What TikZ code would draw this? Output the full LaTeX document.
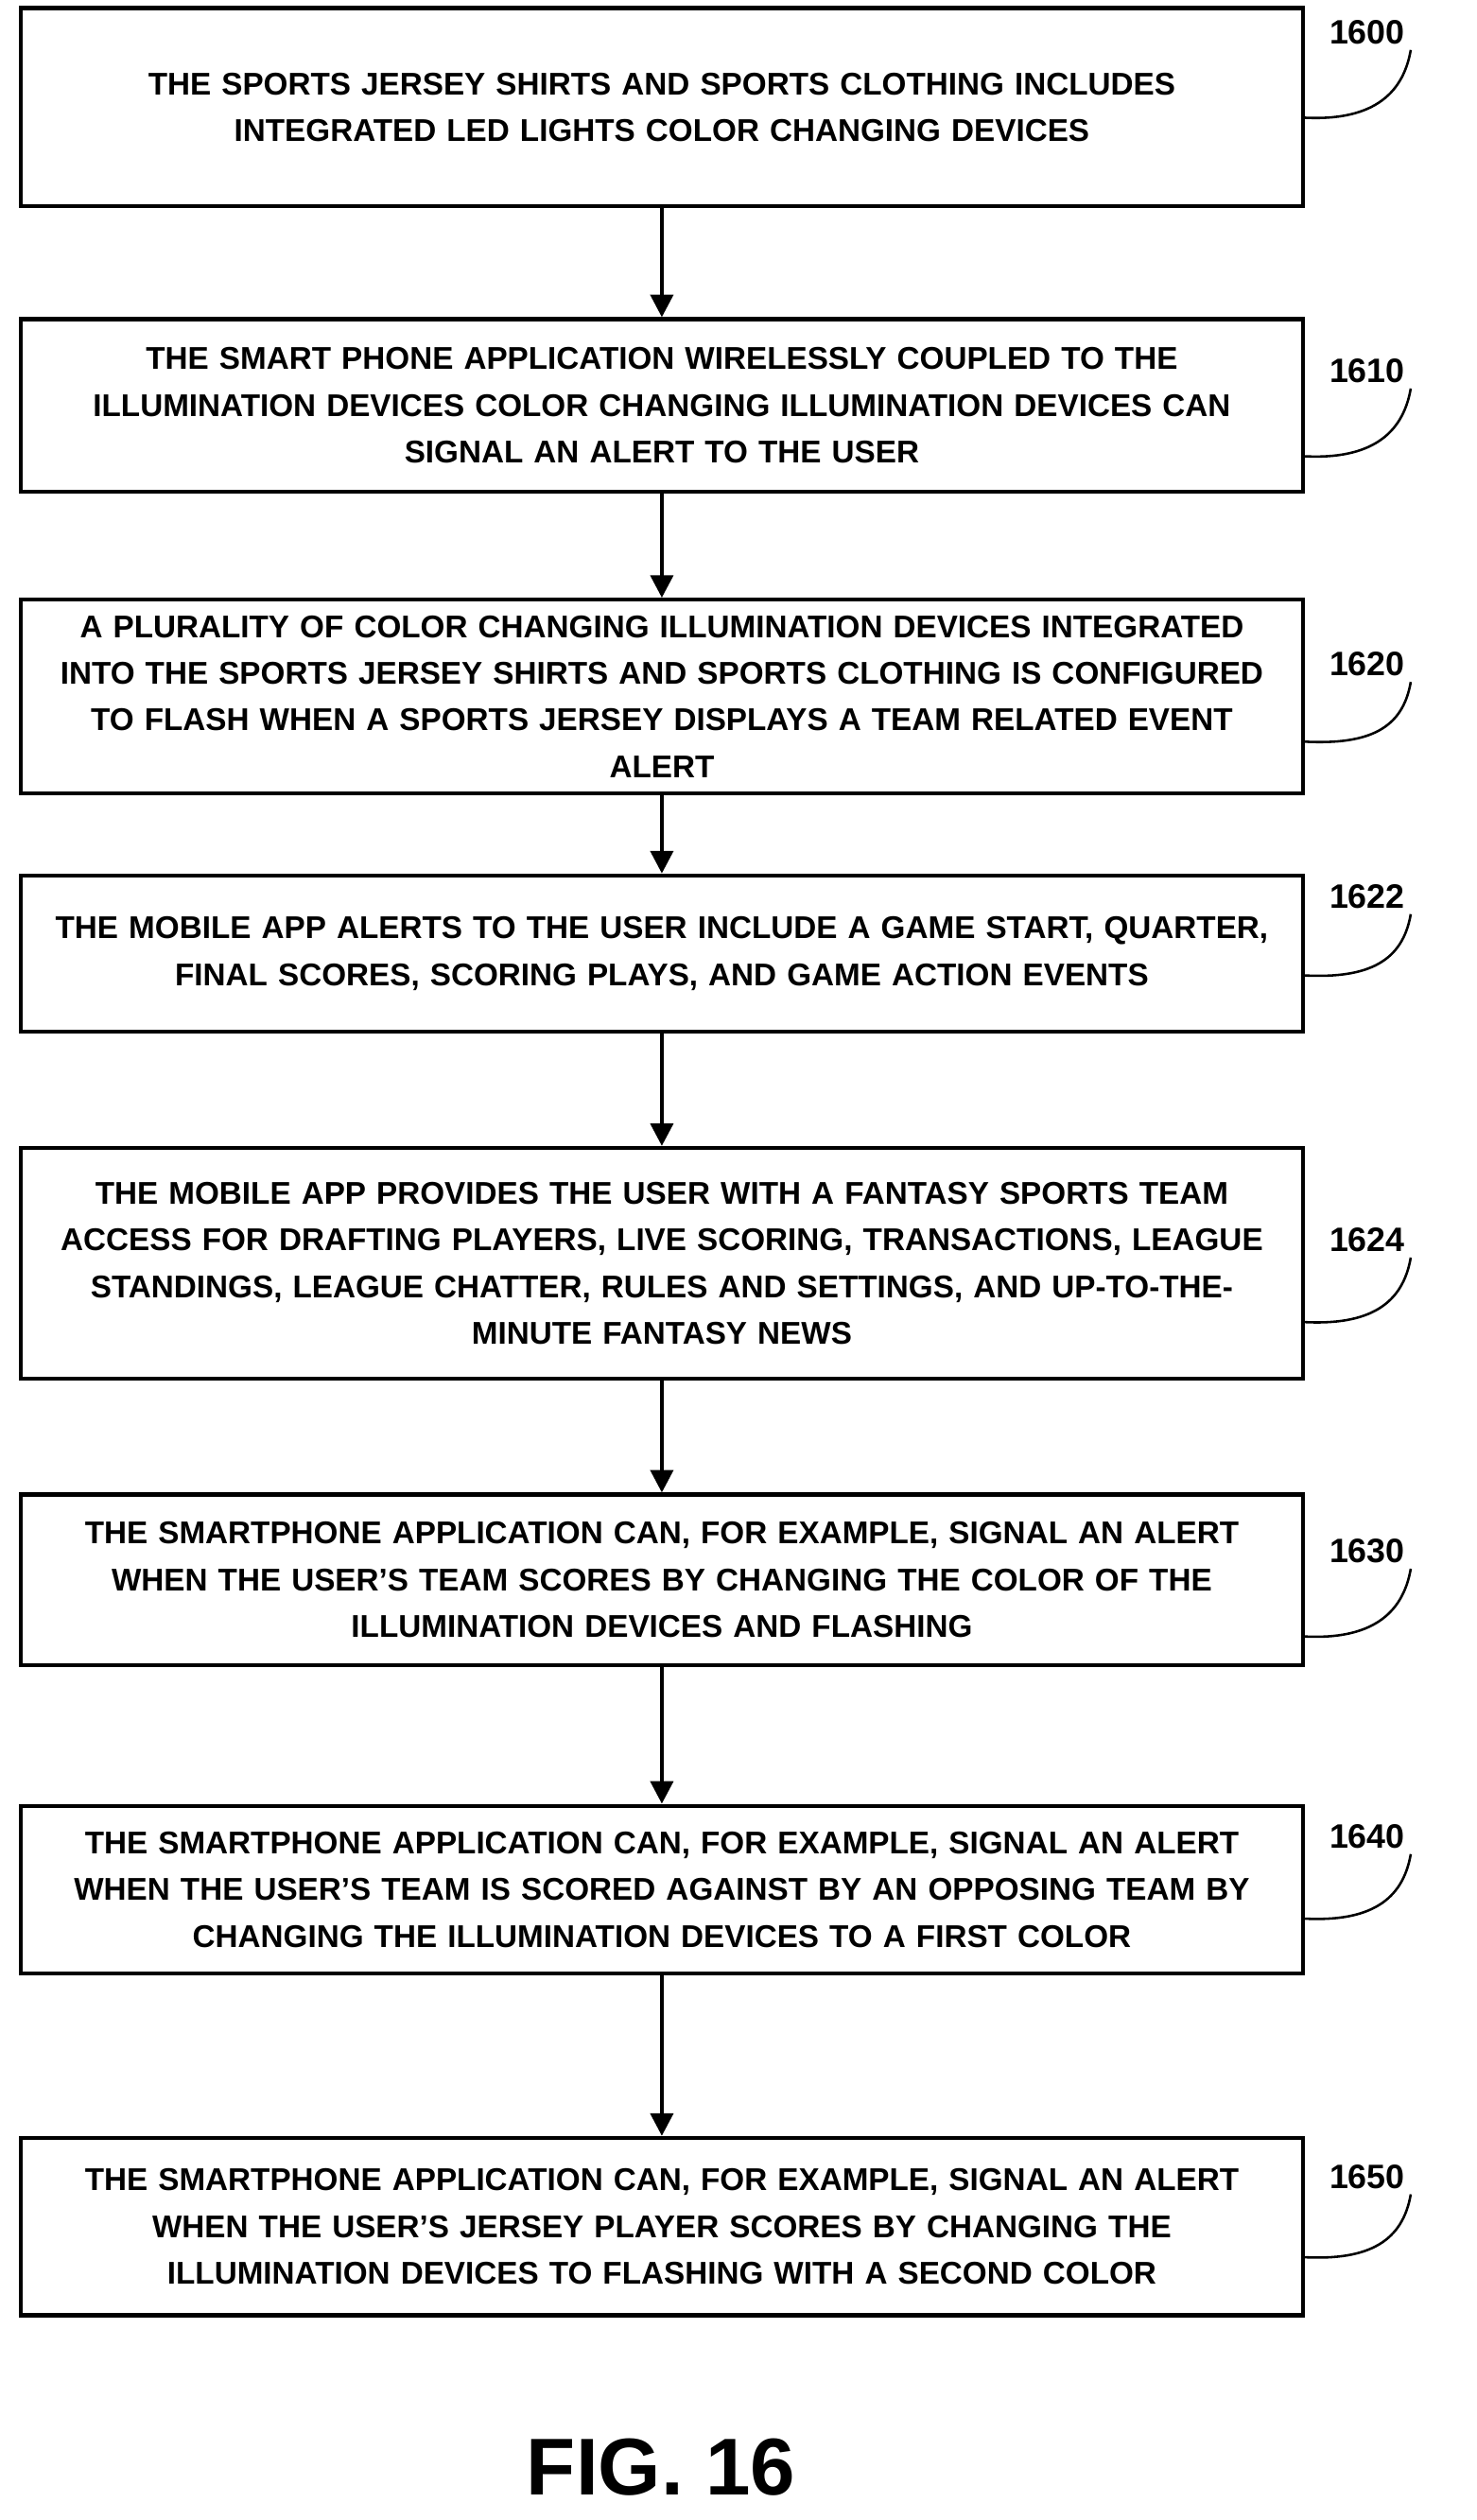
\documentclass[tikz,border=0pt]{standalone}
\usepackage{fontspec}
\setmainfont{Liberation Sans}
\usetikzlibrary{arrows.meta}
\begin{document}
\begin{tikzpicture}[x=1pt,y=-1pt,
 box/.style={draw,line width=2.5pt,minimum width=795pt,text width=780pt,align=center,inner sep=0pt,font=\fontsize{19.5}{29}\selectfont\bfseries},
 lab/.style={font=\fontsize{21}{24}\selectfont\bfseries},
 arr/.style={line width=2.5pt,-{Triangle[length=14pt,width=14pt]}},
 lead/.style={line width=1.5pt}]
\useasboundingbox (0,0) rectangle (916,1563);
\node[box,minimum height=123pt] (b1) at (410.5,66.5) {THE SPORTS JERSEY SHIRTS AND SPORTS CLOTHING INCLUDES\\INTEGRATED LED LIGHTS COLOR CHANGING DEVICES};
\node[box,minimum height=107pt] (b2) at (410.5,251.5) {THE SMART PHONE APPLICATION WIRELESSLY COUPLED TO THE\\ILLUMINATION DEVICES COLOR CHANGING ILLUMINATION DEVICES CAN\\SIGNAL AN ALERT TO THE USER};
\node[box,minimum height=120pt] (b3) at (410.5,432) {A PLURALITY OF COLOR CHANGING ILLUMINATION DEVICES INTEGRATED\\INTO THE SPORTS JERSEY SHIRTS AND SPORTS CLOTHING IS CONFIGURED\\TO FLASH WHEN A SPORTS JERSEY DISPLAYS A TEAM RELATED EVENT\\ALERT};
\node[box,minimum height=97pt] (b4) at (410.5,591.5) {THE MOBILE APP ALERTS TO THE USER INCLUDE A GAME START, QUARTER,\\FINAL SCORES, SCORING PLAYS, AND GAME ACTION EVENTS};
\node[box,minimum height=143pt] (b5) at (410.5,783.5) {THE MOBILE APP PROVIDES THE USER WITH A FANTASY SPORTS TEAM\\ACCESS FOR DRAFTING PLAYERS, LIVE SCORING, TRANSACTIONS, LEAGUE\\STANDINGS, LEAGUE CHATTER, RULES AND SETTINGS, AND UP-TO-THE-\\MINUTE FANTASY NEWS};
\node[box,minimum height=106pt] (b6) at (410.5,980) {THE SMARTPHONE APPLICATION CAN, FOR EXAMPLE, SIGNAL AN ALERT\\WHEN THE USER'S TEAM SCORES BY CHANGING THE COLOR OF THE\\ILLUMINATION DEVICES AND FLASHING};
\node[box,minimum height=104pt] (b7) at (410.5,1172) {THE SMARTPHONE APPLICATION CAN, FOR EXAMPLE, SIGNAL AN ALERT\\WHEN THE USER'S TEAM IS SCORED AGAINST BY AN OPPOSING TEAM BY\\CHANGING THE ILLUMINATION DEVICES TO A FIRST COLOR};
\node[box,minimum height=110pt] (b8) at (410.5,1381) {THE SMARTPHONE APPLICATION CAN, FOR EXAMPLE, SIGNAL AN ALERT\\WHEN THE USER'S JERSEY PLAYER SCORES BY CHANGING THE\\ILLUMINATION DEVICES TO FLASHING WITH A SECOND COLOR};
\foreach \a/\b in {b1/b2,b2/b3,b3/b4,b4/b5,b5/b6,b6/b7,b7/b8}
  \draw[arr] (\a.south) -- (\b.north);
\foreach \n/\t/\ly/\by in {b1/1600/20/73, b2/1610/230/283, b3/1620/412/460, b4/1622/556/605, b5/1624/769/820, b6/1630/962/1015, b7/1640/1139/1190, b8/1650/1350/1400}{
  \node[lab] (l\t) at (848,\ly) {\t};
  \coordinate (s\t) at (\n.east |- 0,\by);
  \draw[lead] (s\t) .. controls ++(40,2) and (870,\ly+40) .. (l\t.south -| 875,0);
}
\node[font=\fontsize{50}{55}\selectfont\bfseries] (fig) at (410,1530) {FIG. 16};
\end{tikzpicture}
\end{document}
